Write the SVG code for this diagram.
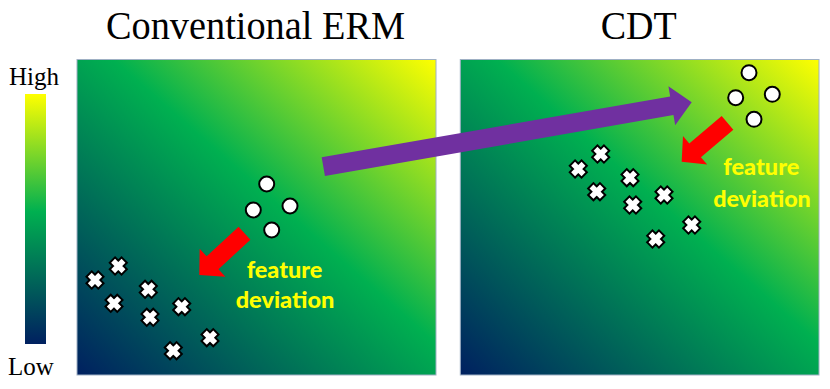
<svg xmlns="http://www.w3.org/2000/svg" width="830" height="389" viewBox="0 0 830 389">
  <defs>
    <linearGradient id="panelGrad" x1="0" y1="1" x2="1" y2="0">
      <stop offset="0" stop-color="#002060"/>
      <stop offset="0.55" stop-color="#00B050"/>
      <stop offset="1" stop-color="#FFFF00"/>
    </linearGradient>
    <linearGradient id="barGrad" x1="0" y1="0" x2="0" y2="1">
      <stop offset="0" stop-color="#FFFF00"/>
      <stop offset="0.47" stop-color="#00B050"/>
      <stop offset="1" stop-color="#002060"/>
    </linearGradient>
    <g id="cross">
      <path d="M-6.6,-6.6 L6.6,6.6 M6.6,-6.6 L-6.6,6.6" stroke="#000" stroke-width="9.5" fill="none"/>
      <path d="M-5.2,-5.2 L5.2,5.2 M5.2,-5.2 L-5.2,5.2" stroke="#fff" stroke-width="5.5" fill="none"/>
    </g>
    <circle id="dot" r="7.5" fill="#fff" stroke="#000" stroke-width="2"/>
  </defs>
  <style>
    .title { font-family: "Liberation Serif", "Times New Roman", serif; font-size: 39px; fill: #000; text-anchor: middle; }
    .scale { font-family: "Liberation Serif", "Times New Roman", serif; font-size: 25px; fill: #000; text-anchor: middle; }
    .fd { font-family: Lato, "Liberation Sans", sans-serif; font-weight: 900; font-size: 23px; fill: #FFFF00; text-anchor: middle; }
    .panel { fill: url(#panelGrad); stroke: #9FB0C4; stroke-width: 1; }
  </style>
  <rect width="830" height="389" fill="#fff"/>

  <g id="colorbar">
    <rect x="25" y="94" width="21" height="250" fill="url(#barGrad)"/>
    <text class="scale" x="34" y="85">High</text>
    <text class="scale" x="31" y="375">Low</text>
  </g>

  <g id="panel-erm">
    <rect class="panel" x="77" y="59.5" width="359" height="315.5"/>
    <text class="title" x="255.5" y="39.3" textLength="299" lengthAdjust="spacingAndGlyphs">Conventional ERM</text>
  </g>

  <g id="panel-cdt">
    <rect class="panel" x="460.3" y="59.5" width="358.7" height="315.5"/>
    <text class="title" x="638.7" y="39.3" textLength="76" lengthAdjust="spacingAndGlyphs">CDT</text>
  </g>

  <g id="erm-circles">
    <use href="#dot" x="266.7" y="184"/>
    <use href="#dot" x="253.3" y="210"/>
    <use href="#dot" x="290" y="206"/>
    <use href="#dot" x="271.7" y="230"/>
  </g>
  <g id="erm-crosses">
    <use href="#cross" x="95" y="280"/>
    <use href="#cross" x="118.3" y="266"/>
    <use href="#cross" x="114" y="303.3"/>
    <use href="#cross" x="148.3" y="289.3"/>
    <use href="#cross" x="150" y="317.3"/>
    <use href="#cross" x="181.7" y="306.7"/>
    <use href="#cross" x="210" y="337.7"/>
    <use href="#cross" x="173.3" y="350.7"/>
  </g>
  <g id="erm-label">
    <text class="fd" x="284.5" y="278.3" textLength="75.7" lengthAdjust="spacingAndGlyphs">feature</text>
    <text class="fd" x="285" y="308.3" textLength="98.7" lengthAdjust="spacingAndGlyphs">deviation</text>
  </g>

  <g id="cdt-circles">
    <use href="#dot" x="749" y="72.7"/>
    <use href="#dot" x="735.7" y="97.7"/>
    <use href="#dot" x="772.3" y="94.3"/>
    <use href="#dot" x="754" y="119.3"/>
  </g>
  <g id="cdt-crosses">
    <use href="#cross" x="578.3" y="169"/>
    <use href="#cross" x="600.7" y="154"/>
    <use href="#cross" x="596.7" y="191.7"/>
    <use href="#cross" x="630" y="177.7"/>
    <use href="#cross" x="632.7" y="205"/>
    <use href="#cross" x="664" y="195"/>
    <use href="#cross" x="691.7" y="225"/>
    <use href="#cross" x="655.7" y="239"/>
  </g>
  <g id="cdt-label">
    <text class="fd" x="761.3" y="175" textLength="76" lengthAdjust="spacingAndGlyphs">feature</text>
    <text class="fd" x="762" y="206.7" textLength="97.7" lengthAdjust="spacingAndGlyphs">deviation</text>
  </g>

  <g id="connectors">
    <polygon fill="#FF0000" transform="translate(244.5,233.3) rotate(137.3)" points="0,-8.75 43.5,-8.75 43.5,-19 61.5,0 43.5,19 43.5,8.75 0,8.75"/>
    <polygon fill="#FF0000" transform="translate(727.5,122.8) rotate(139.7)" points="0,-9 42.5,-9 42.5,-18.7 60.1,0 42.5,18.7 42.5,9 0,9"/>
    <polygon fill="#7030A0" transform="translate(323.3,166.7) rotate(-9.92)" points="0,-9.5 353.8,-9.5 353.8,-19.7 374,0 353.8,19.7 353.8,9.5 0,9.5"/>
  </g>
</svg>
